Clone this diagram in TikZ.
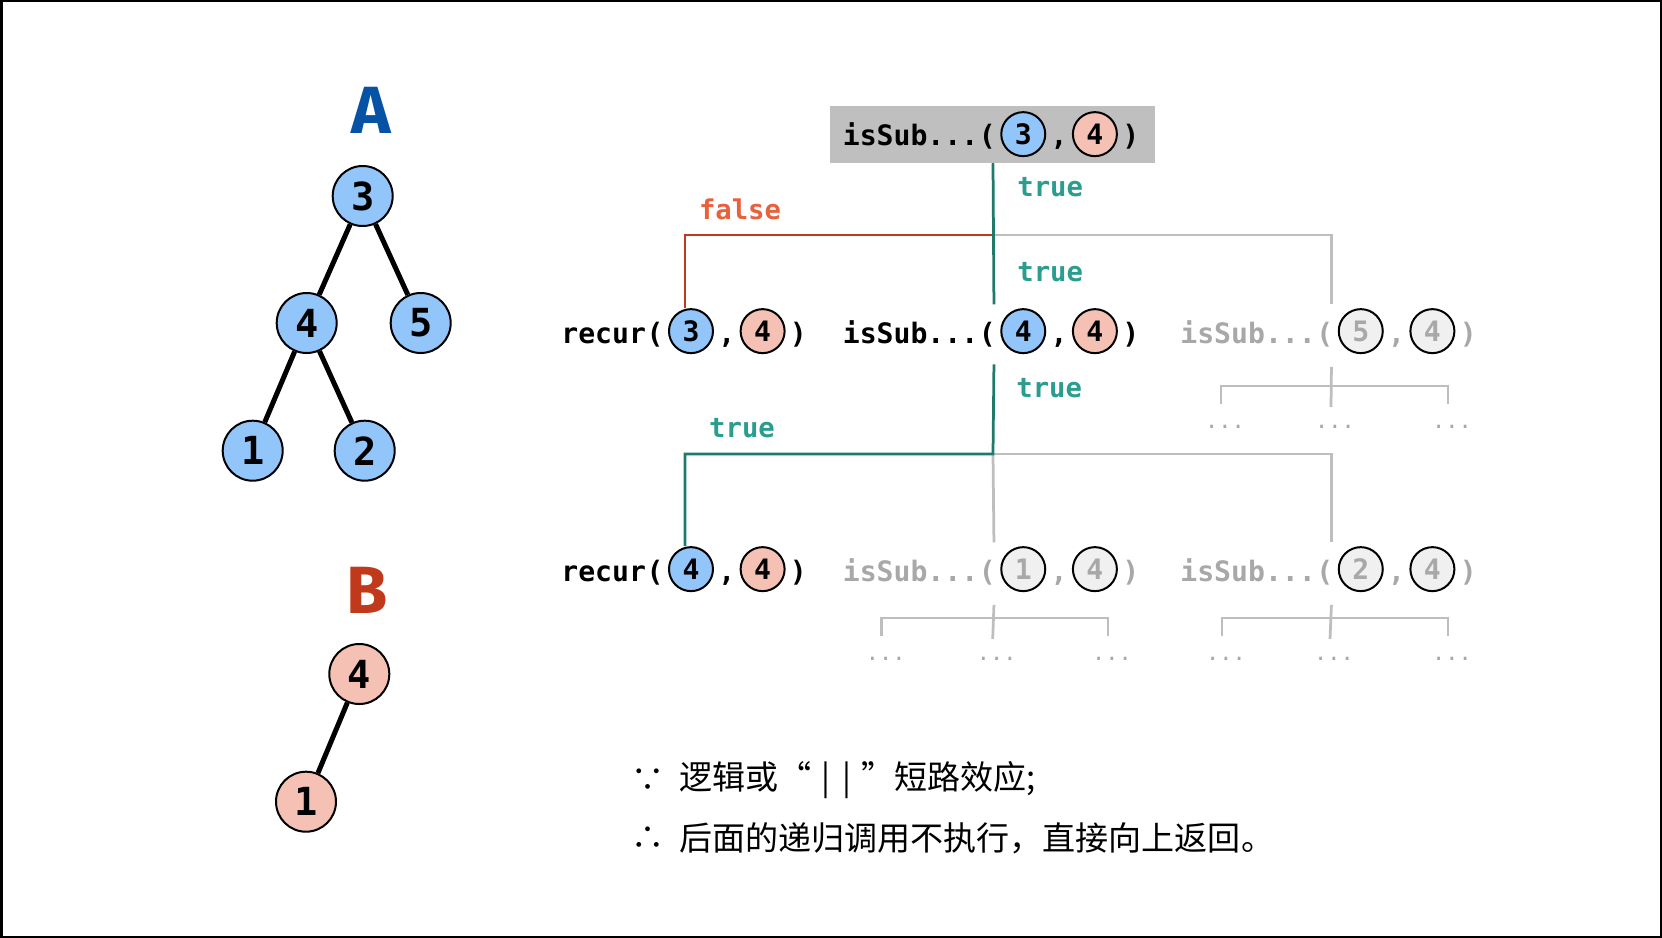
\documentclass[tikz,border=0pt]{standalone}
\usepackage{fontspec}
\setmonofont{DejaVu Sans Mono}
\newfontfamily\cjk{Noto Sans CJK SC}
\newfontfamily\titlefont{Fira Sans}
\usetikzlibrary{positioning}

\definecolor{nodeblue}{RGB}{146,197,249}
\definecolor{nodepink}{RGB}{244,193,180}
\definecolor{nodegray}{RGB}{240,240,240}
\definecolor{txtgray}{RGB}{168,168,168}
\definecolor{linegray}{RGB}{190,190,190}
\definecolor{boxgray}{RGB}{191,191,191}
\definecolor{tealtext}{RGB}{42,157,143}
\definecolor{tealline}{RGB}{31,122,108}
\definecolor{redtext}{RGB}{232,96,60}
\definecolor{redline}{RGB}{192,57,27}
\definecolor{titleblue}{RGB}{6,83,166}

% one call: name, base west point, function, text style, 1st circle, 1st number, 2nd circle, 2nd number
\newcommand{\callrow}[8]{%
  \node[#4, anchor=base west] (#1) at #2 {#3};
  \node[#4, right=0pt of #1] (#1-o) {(};
  \node[#5, right=0.8mm of #1-o] (#1-a) {#6};
  \node[#4, right=0.8mm of #1-a] (#1-c) {,};
  \node[#7, right=0.8mm of #1-c] (#1-b) {#8};
  \node[#4, right=0.8mm of #1-b] (#1-e) {)};
}

\begin{document}
\begin{tikzpicture}[
        x=0.2mm, y=-0.2mm,
        fn/.style={font=\ttfamily\bfseries\fontsize{16}{18}\selectfont, inner sep=0pt, text height=15.5pt, text depth=2pt},
        fngray/.style={fn, text=txtgray},
        ca/.style={circle, draw, line width=0.4mm, fill=nodeblue, minimum size=8.8mm, inner sep=0pt, font=\ttfamily\bfseries\fontsize{16}{18}\selectfont},
        cb/.style={ca, fill=nodepink},
        cg/.style={ca, fill=nodegray, text=txtgray},
        tblue/.style={circle, draw, line width=0.4mm, fill=nodeblue, minimum size=12mm, inner sep=0pt, font=\ttfamily\bfseries\fontsize{22}{24}\selectfont},
        tpink/.style={tblue, fill=nodepink},
        branch/.style={line width=1mm},
        title/.style={font=\titlefont\bfseries\fontsize{38}{40}\selectfont, inner sep=0pt},
        topbox/.style={fill=boxgray, minimum width=65mm, minimum height=11.4mm, inner sep=0pt},
        tline/.style={draw=tealline, line width=0.55mm},
        fline/.style={draw=redline, line width=0.55mm},
        gline/.style={draw=linegray, line width=0.55mm},
        tlab/.style={text=tealtext, font=\ttfamily\bfseries\fontsize{15.5}{17}\selectfont, inner sep=0pt},
        flab/.style={tlab, text=redtext},
        more/.style={text=txtgray, font=\ttfamily\fontsize{12.5}{14}\selectfont, inner sep=0pt},
        note/.style={font=\cjk\fontsize{18.8}{22}\selectfont, inner sep=0pt}
    ]
    \useasboundingbox (0,0) rectangle (1662,938);
    \draw[line width=0.5mm] (1.25,1.25) rectangle (1660.75,936.75);

    % tree A
    \node[title, text=titleblue] (ta) at (370.7,110) {A};
    \node[tblue] (a3) at (362.7,196) {3};
    \node[tblue] (a4) at (306.7,323) {4};
    \node[tblue] (a5) at (420.7,323) {5};
    \node[tblue] (a1) at (252.7,450.7) {1};
    \node[tblue] (a2) at (364.7,450.7) {2};
    \draw[branch] (a3) -- (a4);
    \draw[branch] (a3) -- (a5);
    \draw[branch] (a4) -- (a1);
    \draw[branch] (a4) -- (a2);

    % tree B
    \node[title, text=redline] (tb) at (366.7,590) {B};
    \node[tpink] (b4) at (359.3,674) {4};
    \node[tpink] (b1) at (306,801.7) {1};
    \draw[branch] (b4) -- (b1);

    % recursion
    \node[topbox] (topbox) at (992.5,134.5) {};
    \callrow{r0}{(842.5,146)}{isSub...}{fn}{ca}{3}{cb}{4}

    \callrow{rc1}{(561,343)}{recur}{fn}{ca}{3}{cb}{4}
    \callrow{is1}{(842.5,343)}{isSub...}{fn}{ca}{4}{cb}{4}
    \callrow{is2}{(1180,343)}{isSub...}{fngray}{cg}{5}{cg}{4}

    \callrow{rc2}{(561,581)}{recur}{fn}{ca}{4}{cb}{4}
    \callrow{is3}{(842.5,581)}{isSub...}{fngray}{cg}{1}{cg}{4}
    \callrow{is4}{(1180,581)}{isSub...}{fngray}{cg}{2}{cg}{4}

    \coordinate (j1) at (993,235);
    \coordinate (j2) at (993,454);
    \draw[gline] (j1) -| ([xshift=1.3mm, yshift=2.2mm]is2-o.north);
    \draw[fline] (topbox.south -| j1) -- (j1) -| ([xshift=-1.2mm]rc1-a.north);
    \draw[tline] (topbox.south -| j1) -- ([xshift=1.3mm, yshift=2.2mm]is1-o.north);

    \draw[gline] (j2) -- ([xshift=1.3mm, yshift=2.2mm]is3-o.north);
    \draw[gline] (j2) -| ([xshift=1.3mm, yshift=2.2mm]is4-o.north);
    \draw[tline] ([xshift=1.3mm, yshift=-3.5mm]is1-o.south) -- (j2) -| ([xshift=-1.2mm]rc2-a.north);

    \node[tlab, anchor=west] (t1) at (1017,187) {true};
    \node[tlab, anchor=west] (t2) at (1017,272) {true};
    \node[tlab, anchor=west] (t3) at (1016,388) {true};
    \node[flab] (f1) at (740,209) {false};
    \node[tlab] (t4) at (742,428) {true};

    % unexplored calls
    \node[more] (m21) at (1225,427) {...};
    \node[more] (m22) at (1335,427) {...};
    \node[more] (m23) at (1452,427) {...};
    \node[more] (m31) at (885.7,659) {...};
    \node[more] (m32) at (996.7,659) {...};
    \node[more] (m33) at (1112,659) {...};
    \node[more] (m41) at (1226,659) {...};
    \node[more] (m42) at (1334,659) {...};
    \node[more] (m43) at (1452,659) {...};
    \draw[gline] ([xshift=1.3mm, yshift=-4mm]is2-o.south) -- ([xshift=-0.8mm, yshift=4mm]m22.center);
    \draw[gline] ([xshift=-0.8mm, yshift=4.6mm]m21.center) -- ++(0,-18) -| ([xshift=-0.8mm, yshift=4.6mm]m23.center);
    \draw[gline] ([xshift=1.3mm, yshift=-4mm]is3-o.south) -- ([xshift=-0.8mm, yshift=4mm]m32.center);
    \draw[gline] ([xshift=-0.8mm, yshift=4.6mm]m31.center) -- ++(0,-18) -| ([xshift=-0.8mm, yshift=4.6mm]m33.center);
    \draw[gline] ([xshift=1.3mm, yshift=-4mm]is4-o.south) -- ([xshift=-0.8mm, yshift=4mm]m42.center);
    \draw[gline] ([xshift=-0.8mm, yshift=4.6mm]m41.center) -- ++(0,-18) -| ([xshift=-0.8mm, yshift=4.6mm]m43.center);

    % note
    \node[note] (because) at (648,780) {∵};
    \node[note, anchor=west] (why) at (679,780) {逻辑或“\hspace{2mm}|\hspace{2.4mm}|\hspace{2mm}”短路效应;};
    \node[note] (so) at (648,838) {∴};
    \node[note, anchor=west] (then) at (679,838) {后面的递归调用不执行，直接向上返回。};
\end{tikzpicture}
\end{document}
